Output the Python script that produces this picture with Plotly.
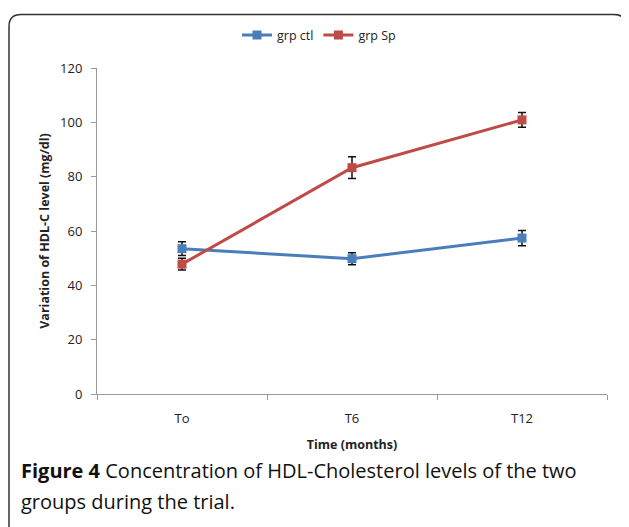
import plotly.graph_objects as go

times = ["To", "T6", "T12"]
ctl_values = [53.5, 49.8, 57.4]
ctl_errors = [2.5, 2.2, 2.8]
sp_values = [47.8, 83.3, 100.9]
sp_errors = [2.2, 4.0, 2.7]
y_ticks = [0, 20, 40, 60, 80, 100, 120]

# page body has an 8px default margin; work in figure coordinates
W, H = 621, 519
L, T = 89, 57
pw, ph = 510, 329
R, B = W - L - pw, H - T - ph

def px(x):
    return (x - L) / pw

def py(y):
    return (T + ph - y) / ph

blue = "#4a7ebb"
red = "#be4b48"

fig = go.Figure()
fig.add_trace(go.Scatter(
    x=times, y=ctl_values, name="grp ctl", mode="lines+markers",
    line=dict(color=blue, width=3),
    marker=dict(symbol="square", size=9, color=blue),
    error_y=dict(type="data", array=ctl_errors, color="#111111", thickness=1.5, width=4),
))
fig.add_trace(go.Scatter(
    x=times, y=sp_values, name="grp Sp", mode="lines+markers",
    line=dict(color=red, width=3),
    marker=dict(symbol="square", size=9, color=red),
    error_y=dict(type="data", array=sp_errors, color="#111111", thickness=1.5, width=4),
))

# rounded frame
x0, x1 = px(1), px(618)
y0, y1 = py(3), py(540)
rx, ry = 12 / pw, 12 / ph
path = (f"M {x0+rx},{y0} L {x1-rx},{y0} Q {x1},{y0} {x1},{y0-ry} "
        f"L {x1},{y1+ry} Q {x1},{y1} {x1-rx},{y1} L {x0+rx},{y1} "
        f"Q {x0},{y1} {x0},{y1+ry} L {x0},{y0-ry} Q {x0},{y0} {x0+rx},{y0} Z")

fig.update_layout(
    width=W, height=H,
    margin=dict(l=L, r=R, t=T, b=B, pad=0),
    paper_bgcolor="white", plot_bgcolor="white",
    font=dict(family="Open Sans, sans-serif", size=12.5, color="#222"),
    showlegend=True,
    legend=dict(orientation="h", x=px(229), y=py(9), xanchor="left", yanchor="top",
                font=dict(size=12.5, color="#222"), itemwidth=30, tracegroupgap=0,
                bgcolor="rgba(0,0,0,0)"),
    xaxis=dict(
        type="category", range=[-0.5, 2.5],
        showline=True, linecolor="#999", linewidth=1,
        ticks="outside", ticklen=5, tickcolor="#999",
        tickson="boundaries", showgrid=False, zeroline=False,
        tickfont=dict(size=13, color="#222"), ticklabelstandoff=12,
        title=dict(text="<b>Time (months)</b>", font=dict(size=12.5, color="#222"), standoff=14),
    ),
    yaxis=dict(
        range=[0, 120], tickvals=y_ticks,
        showline=True, linecolor="#999", linewidth=1,
        ticks="outside", ticklen=5, tickcolor="#999",
        showgrid=False, zeroline=False,
        tickfont=dict(size=13, color="#222"), ticklabelstandoff=6,
        title=dict(text="<b>Variation of HDL-C level (mg/dl)</b>", font=dict(size=12.5, color="#222"), standoff=7),
    ),
    shapes=[dict(type="path", xref="paper", yref="paper", path=path,
                 line=dict(color="#333", width=1.5), layer="below")],
    annotations=[
        dict(xref="paper", yref="paper", x=px(11), y=py(463), xanchor="left", yanchor="middle",
             showarrow=False, align="left",
             text="<b>Figure 4</b> Concentration of HDL-Cholesterol levels of the two",
             font=dict(size=20, color="#111")),
        dict(xref="paper", yref="paper", x=px(11), y=py(494), xanchor="left", yanchor="middle",
             showarrow=False, align="left",
             text="groups during the trial.",
             font=dict(size=20, color="#111")),
    ],
)

fig.write_html("out.html")
